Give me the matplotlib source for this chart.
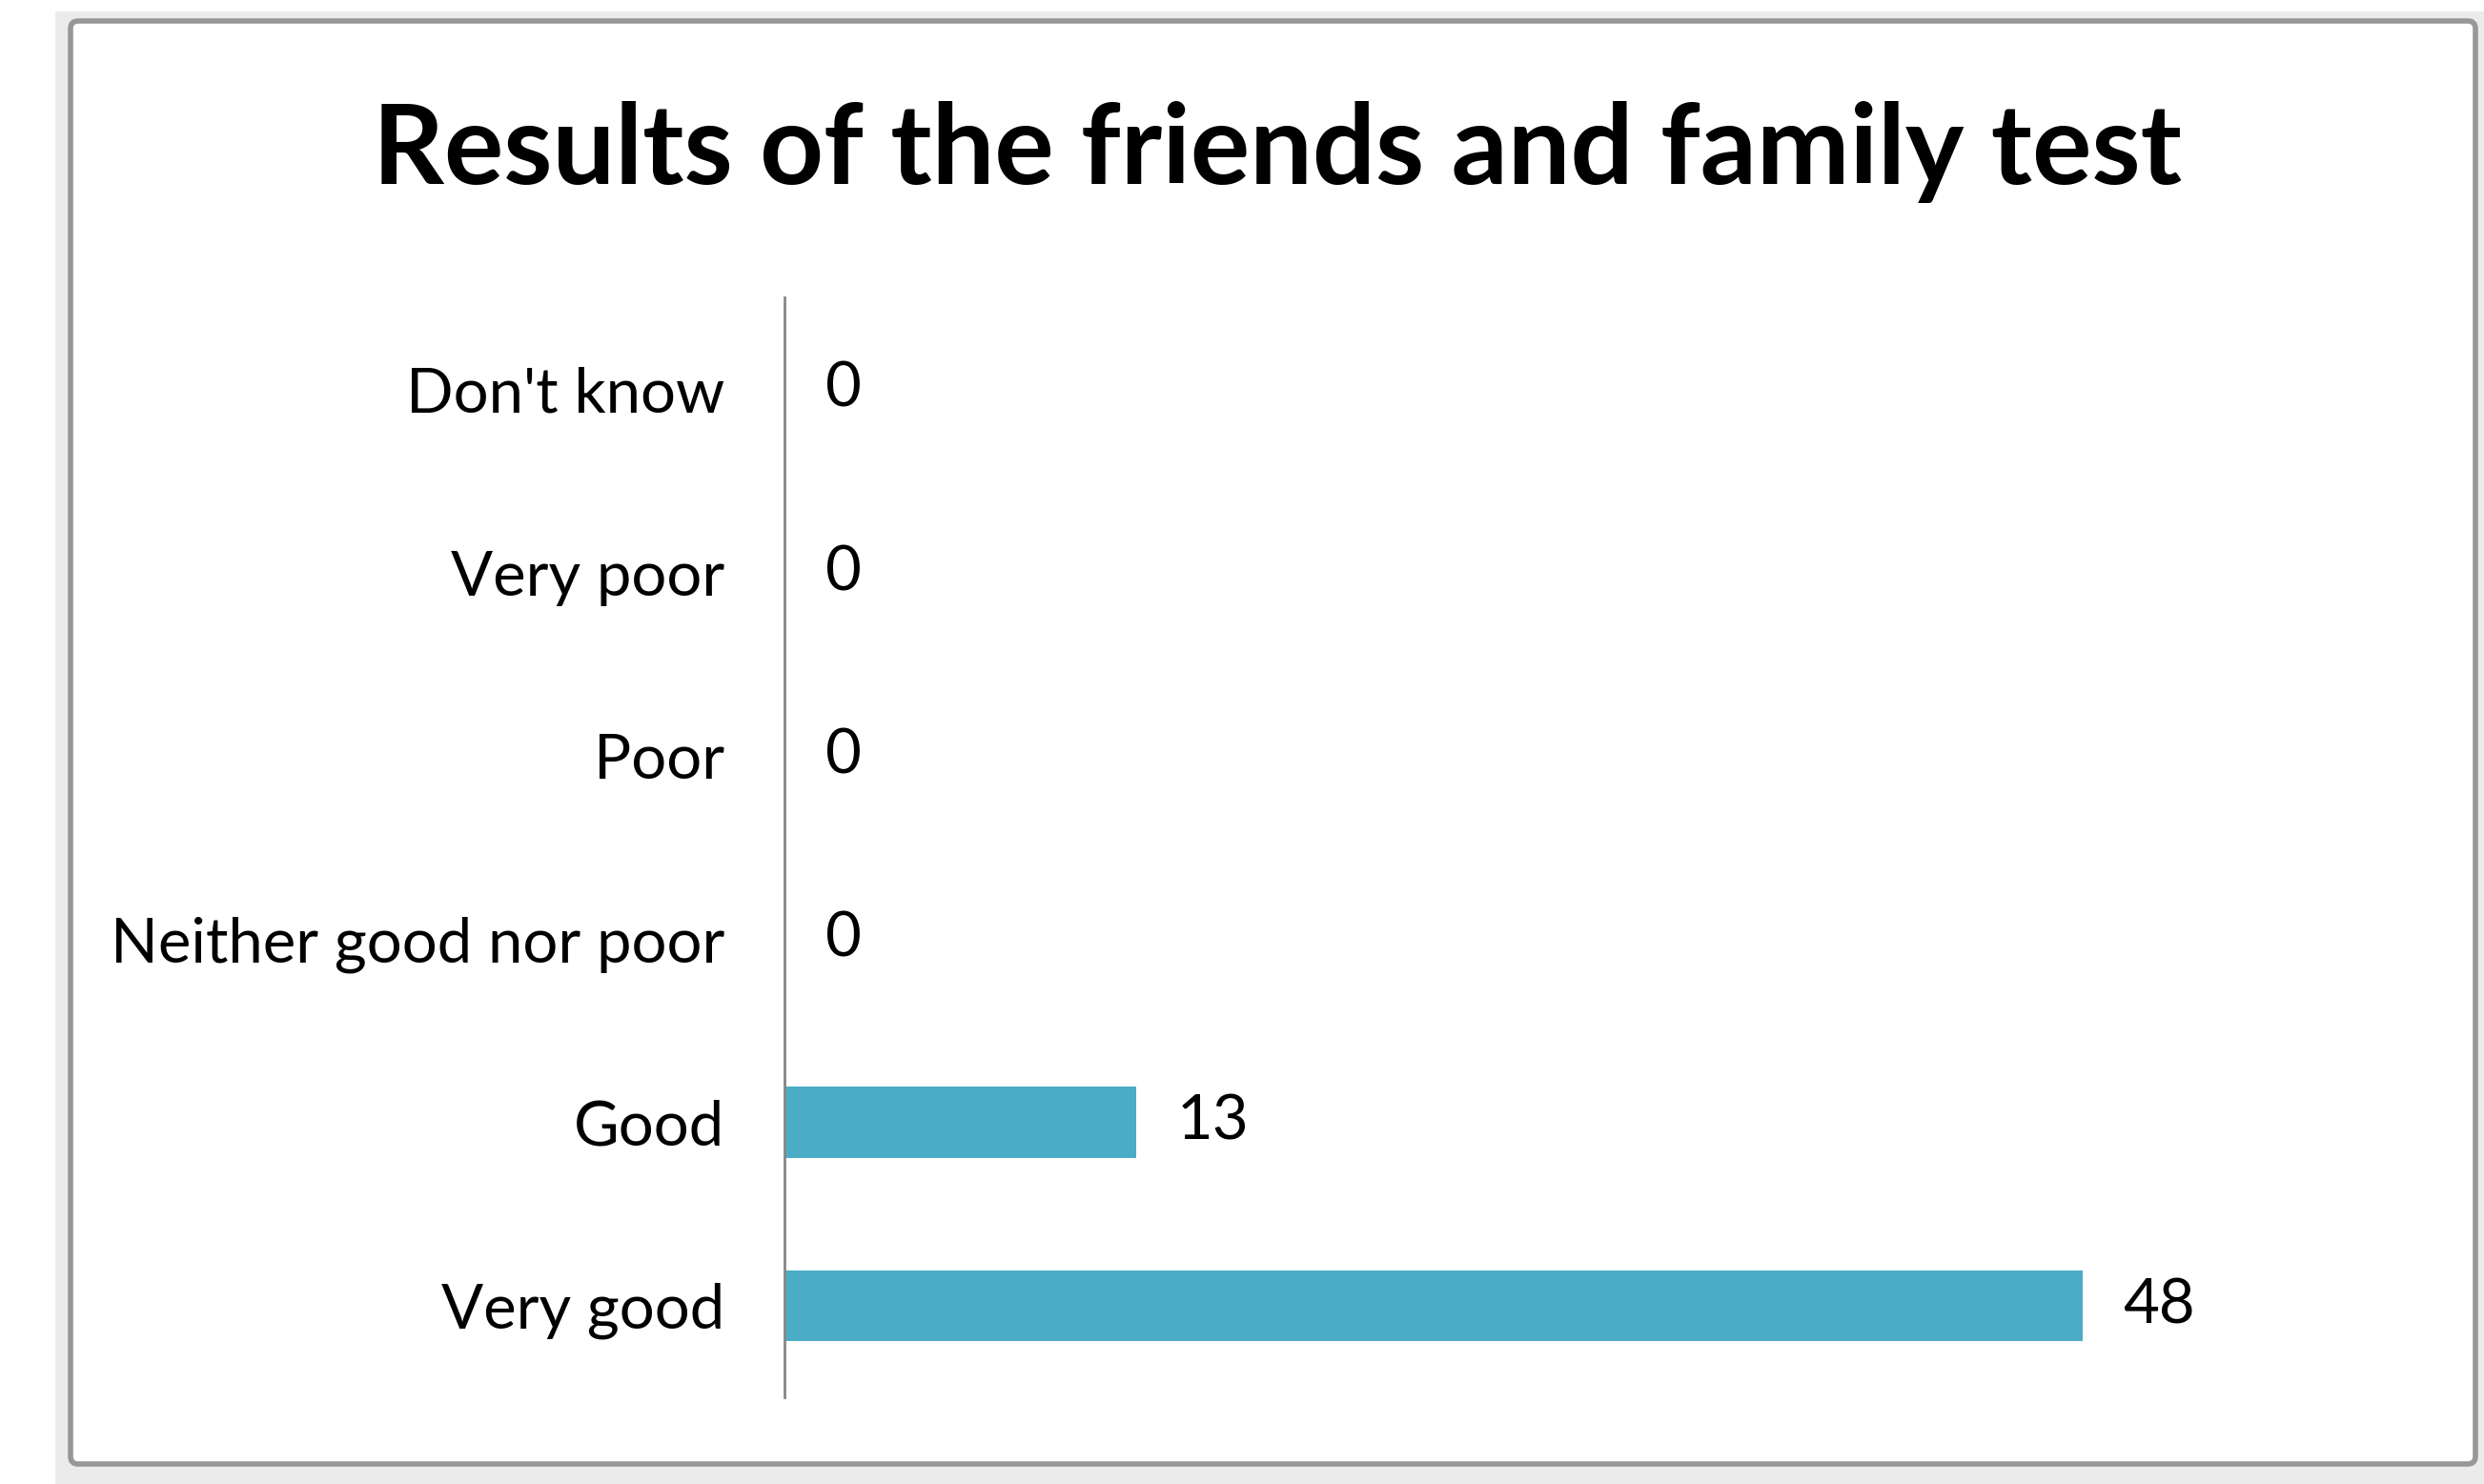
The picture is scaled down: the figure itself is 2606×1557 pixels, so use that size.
import matplotlib.pyplot as plt
from matplotlib.patches import Rectangle, FancyBboxPatch

# data (bottom to top, Excel order)
categories = ["Very good", "Good", "Neither good nor poor", "Poor", "Very poor", "Don't know"]
counts = [48, 13, 0, 0, 0, 0]
title = "Results of the friends and family test"

W, H, DPI = 2606, 1557, 100
plt.rcParams['font.family'] = ['Lato', 'DejaVu Sans']

fig = plt.figure(figsize=(W / DPI, H / DPI), dpi=DPI)
fig.patch.set_facecolor('white')


def px(x, y):
    # pixel (top-left origin) -> inches
    return x / DPI, (H - y) / DPI


# spreadsheet background strip and the chart frame
x0, y0 = px(58, H)
fig.patches.append(Rectangle((x0, y0), (W - 58) / DPI, (H - 12) / DPI,
                             transform=fig.dpi_scale_trans, facecolor='#ebebeb',
                             edgecolor='none', zorder=0))
bx, by = px(74, 1536)
fig.patches.append(FancyBboxPatch((bx, by), (2597 - 74) / DPI, (1536 - 22) / DPI,
                                  boxstyle='round,pad=0,rounding_size=0.08',
                                  transform=fig.dpi_scale_trans, facecolor='white',
                                  edgecolor='#979797', linewidth=4, zorder=1))

# plot area
left, right, top, bottom = 823, 2525, 312, 1466
ax = fig.add_axes([left / W, 1 - bottom / H, (right - left) / W, (bottom - top) / H])
ax.set_facecolor('none')
ax.set_zorder(2)

bars = ax.barh(range(len(categories)), counts, height=0.385, color='#4BACC6')
ax.bar_label(bars, padding=31, fontsize=47, color='black')

ax.set_xlim(0, 60)
ax.set_ylim(-0.5, len(categories) - 0.5)
ax.set_yticks(range(len(categories)))
ax.set_yticklabels(categories, fontsize=47)
ax.set_xticks([])
ax.tick_params(axis='y', length=0, pad=45)
for s in ['top', 'right', 'bottom']:
    ax.spines[s].set_visible(False)
ax.spines['left'].set_color('#868686')
ax.spines['left'].set_linewidth(2)

fig.text(1340 / W, 1 - 193 / H, title, ha='center', va='baseline',
         fontsize=84, fontweight='bold', color='black', zorder=3)

fig.savefig('out.png', dpi=DPI)
